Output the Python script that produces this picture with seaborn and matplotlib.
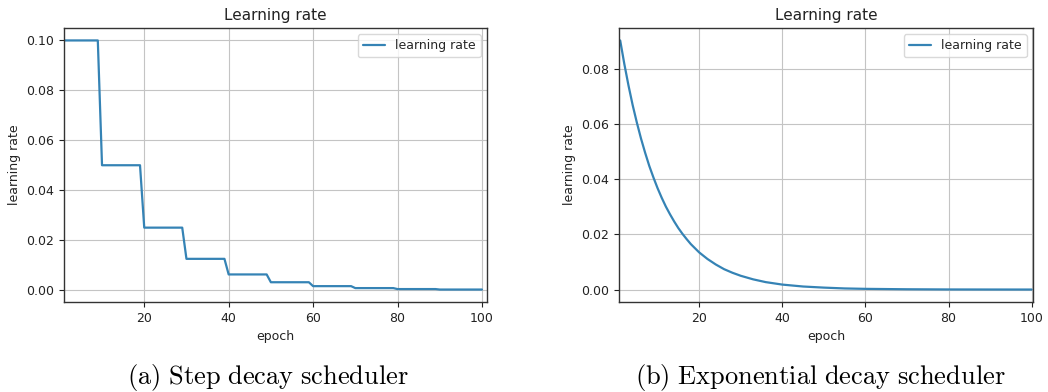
# package imports
import matplotlib
matplotlib.use("Agg")
import matplotlib.pyplot as plt
import pandas as pd
import seaborn as sns

# data: step decay (breakpoints of the staircase)
step_epoch = [1, 9, 10, 19, 20, 29, 30, 39, 40, 49, 50, 59, 60, 69, 70, 79, 80, 89, 90, 100]
step_lr = [0.1, 0.1, 0.05, 0.05, 0.025, 0.025, 0.0125, 0.0125, 0.00625, 0.00625,
           0.003125, 0.003125, 0.0015625, 0.0015625, 0.00078, 0.00078,
           0.00039, 0.00039, 0.0002, 0.0002]

# data: exponential decay
exp_epoch = [1, 2, 3, 4, 5, 6, 7, 8, 9, 10, 11, 12, 13, 14, 15, 16, 17, 18, 19, 20,
             22, 24, 26, 28, 30, 33, 36, 40, 45, 50, 55, 60, 70, 80, 90, 100]
exp_lr = [0.0905, 0.0819, 0.0741, 0.0670, 0.0607, 0.0549, 0.0497, 0.0449, 0.0407, 0.0368,
          0.0333, 0.0301, 0.0273, 0.0247, 0.0223, 0.0202, 0.0183, 0.0165, 0.0150, 0.0135,
          0.0111, 0.0091, 0.0074, 0.0061, 0.0050, 0.0037, 0.0027, 0.0018, 0.0011, 0.0007,
          0.0004, 0.00025, 0.0001, 0.00003, 0.00001, 0.0]

captions = ["(a) Step decay scheduler", "(b) Exponential decay scheduler"]

sns.set_style("whitegrid", {
    "axes.edgecolor": "#333333",
    "grid.color": "#c4c4c4",
    "xtick.bottom": True,
    "ytick.left": True,
})
plt.rcParams["font.family"] = ["DejaVu Sans"]
plt.rcParams["mathtext.fontset"] = "cm"

line_color = "#3583b5"

fig = plt.figure(figsize=(10.48, 3.92), dpi=100)
ax1 = fig.add_axes([0.0611, 0.2296, 0.4036, 0.699])
ax2 = fig.add_axes([0.5906, 0.2296, 0.395, 0.699])

df_step = pd.DataFrame({"epoch": step_epoch, "lr": step_lr})
df_exp = pd.DataFrame({"epoch": exp_epoch, "lr": exp_lr})

sns.lineplot(data=df_step, x="epoch", y="lr", ax=ax1, color=line_color,
             linewidth=1.6, label="learning rate", estimator=None)
sns.lineplot(data=df_exp, x="epoch", y="lr", ax=ax2, color=line_color,
             linewidth=1.6, label="learning rate", estimator=None)

ax1.set_xlim(1, 101.2)
ax2.set_xlim(0.7, 100.3)

# caption centres (figure fraction)
caption_x = [0.2557, 0.7824]

for ax, cap, cx in zip([ax1, ax2], captions, caption_x):
    ax.set_title("Learning rate", fontsize=11, color="#222222")
    ax.set_xlabel("epoch", fontsize=9, color="#222222")
    ax.set_ylabel("learning rate", fontsize=9, color="#222222")
    ax.set_xticks([20, 40, 60, 80, 100])
    ax.tick_params(labelsize=9, colors="#222222", length=3.5, width=0.8)
    for s in ax.spines.values():
        s.set_linewidth(1.0)
    ax.grid(True, linewidth=0.8)
    ax.legend(loc="upper right", fontsize=9, frameon=True, framealpha=0.8,
              edgecolor="#d0d0d0", fancybox=True, handlelength=1.8)
    fig.text(cx, 0.036,
             r"$\mathrm{" + cap.replace(" ", r"\ ") + "}$",
             ha="center", va="center", fontsize=19, color="black")

fig.savefig("out.png", dpi=100)
